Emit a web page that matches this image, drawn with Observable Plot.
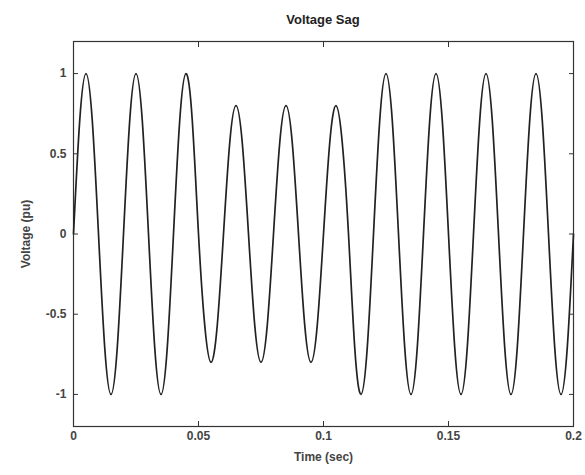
<!DOCTYPE html>
<html>
<head>
<meta charset="utf-8">
<script src="https://cdn.jsdelivr.net/npm/d3@7"></script>
<script src="https://cdn.jsdelivr.net/npm/@observablehq/plot@0.6"></script>
<style>
  html, body { margin: 0; padding: 0; background: #fff; }
  #title { width: 585px; height: 32px; box-sizing: border-box; padding-left: 73px; padding-right: 12px;
    text-align: center; font: bold 13px "Liberation Sans", Arial, sans-serif; color: #222; line-height: 40px; }
</style>
</head>
<body>
<div id="title">Voltage Sag</div>
<div id="chart"></div>
<script>
// Sample times (sec), every 1/8 of a 50 Hz cycle
const timeSec = [
  0, 0.0025, 0.005, 0.0075, 0.01, 0.0125, 0.015, 0.0175,
  0.02, 0.0225, 0.025, 0.0275, 0.03, 0.0325, 0.035, 0.0375,
  0.04, 0.0425, 0.045, 0.0475, 0.05, 0.0525, 0.055, 0.0575,
  0.06, 0.0625, 0.065, 0.0675, 0.07, 0.0725, 0.075, 0.0775,
  0.08, 0.0825, 0.085, 0.0875, 0.09, 0.0925, 0.095, 0.0975,
  0.1, 0.1025, 0.105, 0.1075, 0.11, 0.1125, 0.115, 0.1175,
  0.12, 0.1225, 0.125, 0.1275, 0.13, 0.1325, 0.135, 0.1375,
  0.14, 0.1425, 0.145, 0.1475, 0.15, 0.1525, 0.155, 0.1575,
  0.16, 0.1625, 0.165, 0.1675, 0.17, 0.1725, 0.175, 0.1775,
  0.18, 0.1825, 0.185, 0.1875, 0.19, 0.1925, 0.195, 0.1975,
  0.2
];
// Voltage (pu)
const voltagePu = [
  0, 0.71, 1, 0.71, 0, -0.71, -1, -0.71,
  0, 0.71, 1, 0.71, 0, -0.71, -1, -0.71,
  0, 0.71, 1, 0.71, 0, -0.57, -0.8, -0.57,
  0, 0.57, 0.8, 0.57, 0, -0.57, -0.8, -0.57,
  0, 0.57, 0.8, 0.57, 0, -0.57, -0.8, -0.57,
  0, 0.57, 0.8, 0.57, 0, -0.71, -1, -0.71,
  0, 0.71, 1, 0.71, 0, -0.71, -1, -0.71,
  0, 0.71, 1, 0.71, 0, -0.71, -1, -0.71,
  0, 0.71, 1, 0.71, 0, -0.71, -1, -0.71,
  0, 0.71, 1, 0.71, 0, -0.71, -1, -0.71,
  0
];
const xTicks = [0, 0.05, 0.1, 0.15, 0.2];
const xTickLabels = ["0", "0.05", "0.1", "0.15", "0.2"];
const yTicks = [-1, -0.5, 0, 0.5, 1];
const yTickLabels = ["-1", "-0.5", "0", "0.5", "1"];

const data = timeSec.map((t, i) => ({t, v: voltagePu[i]}));
const axisColor = "#444";

const chart = Plot.plot({
  width: 585,
  height: 443,
  marginLeft: 73,
  marginRight: 12,
  marginTop: 9,
  marginBottom: 49,
  style: {fontFamily: "'Liberation Sans', Arial, sans-serif", fontSize: "12px", color: axisColor, background: "#fff"},
  x: {domain: [0, 0.2]},
  y: {domain: [-1.2, 1.2]},
  marks: [
    Plot.frame({stroke: "#333", strokeWidth: 1.2}),
    Plot.lineY(data, {x: "t", y: "v", curve: "natural", stroke: "#222", strokeWidth: 1.7}),
    Plot.axisX({anchor: "bottom", ticks: xTicks, tickFormat: (d, i) => xTickLabels[i], tickSize: -5, tickPadding: 10,
      label: "Time (sec)", labelAnchor: "center", labelArrow: "none", labelOffset: 34, fontWeight: "bold", stroke: "#333"}),
    Plot.axisX({anchor: "top", ticks: xTicks, tickFormat: () => "", tickSize: -5, label: null, stroke: "#333"}),
    Plot.axisY({anchor: "left", ticks: yTicks, tickFormat: (d, i) => yTickLabels[i], tickSize: -5, tickPadding: 12,
      label: "Voltage (pu)", labelAnchor: "center", labelArrow: "none", labelOffset: 52, fontWeight: "bold", stroke: "#333"}),
    Plot.axisY({anchor: "right", ticks: yTicks, tickFormat: () => "", tickSize: -5, label: null, stroke: "#333"})
  ]
});
document.getElementById("chart").appendChild(chart);
</script>
</body>
</html>
